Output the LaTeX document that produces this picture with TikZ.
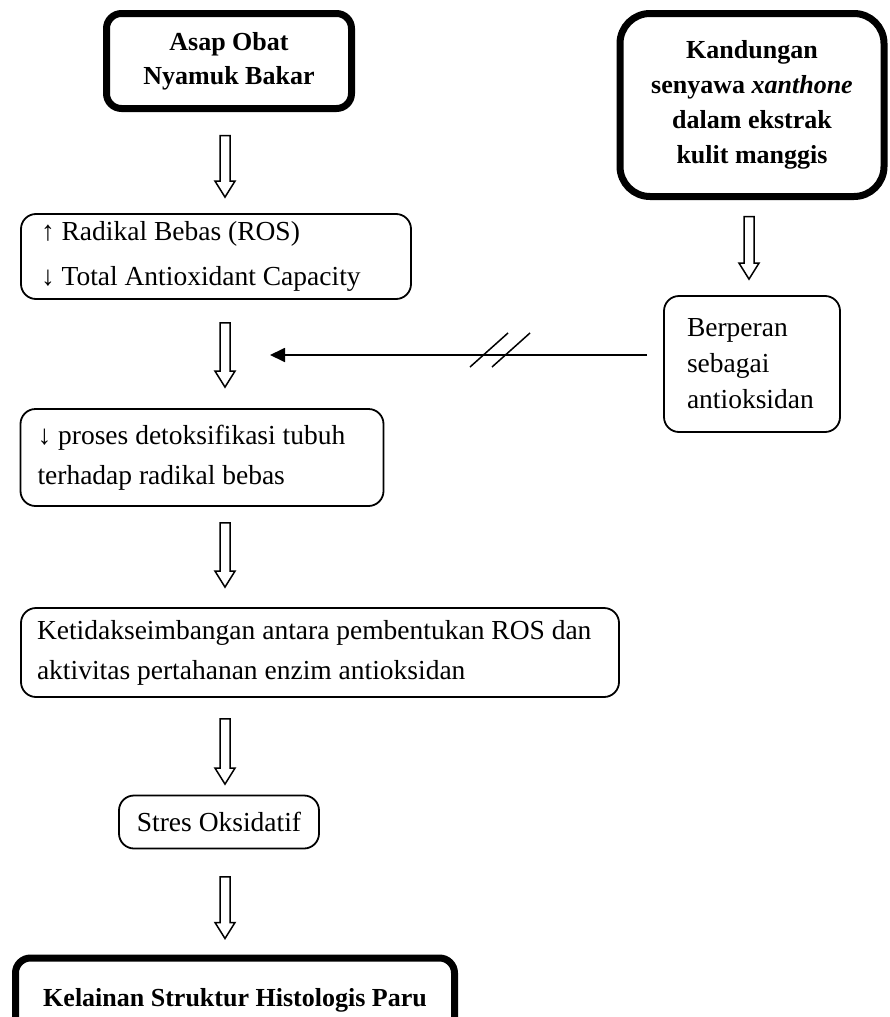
\documentclass[tikz,border=0pt]{standalone}
\usepackage{fontspec}
\setmainfont{Liberation Serif}
\usetikzlibrary{arrows.meta,calc}

\newcommand{\txt}[1]{\fontsize{27.5}{#1}\selectfont}
\newcommand{\btxt}[1]{\fontsize{26}{#1}\selectfont\bfseries}

\begin{document}
\begin{tikzpicture}[x=1pt,y=-1pt,
	box/.style={draw, line width=1.8pt, rounded corners=15pt, inner sep=0pt, align=flush left},
	thickbox/.style={draw, line width=7pt, rounded corners=15pt, inner sep=0pt, align=center},
	hollow/.style={line width=1.5pt, line join=miter, to path={let \p1=(\tikztostart), \p2=(\tikztotarget) in
		(\x1-5pt,\y1) -- (\x1+5pt,\y1) -- (\x1+5pt,\y2+16pt) -- (\x1+10pt,\y2+16pt) -- (\x1,\y2)
		-- (\x1-10pt,\y2+16pt) -- (\x1-5pt,\y2+16pt) -- cycle}}]
	\useasboundingbox (0,0) rectangle (890,1017);
	\coordinate (spine) at (225,0);
	\coordinate (spine2) at (749,0);
	\coordinate (blok) at (270,355);

	\node[thickbox, minimum width=245pt, minimum height=95pt, font=\btxt{34}] (asap) at (229,61) {Asap Obat\\Nyamuk Bakar};
	\node[thickbox, rounded corners=30pt, minimum width=264pt, minimum height=183pt, font=\btxt{35}] (kandungan) at (752,105) {Kandungan\\senyawa \textit{xanthone}\\dalam ekstrak\\kulit manggis};
	\node[box, minimum width=390pt, minimum height=85pt, text width=350pt, font=\txt{45}] (radikal) at (216,256.5) {↑ Radikal Bebas (ROS)\\↓ Total Antioxidant Capacity};
	\node[box, minimum width=176pt, minimum height=136pt, text width=130pt, font=\txt{36}] (berperan) at (752,364) {Berperan\\sebagai\\antioksidan};
	\node[box, minimum width=363pt, minimum height=97pt, text width=329pt, font=\txt{40}] (proses) at (202,457.5) {↓ proses detoksifikasi tubuh\\terhadap radikal bebas};
	\node[box, minimum width=598pt, minimum height=89pt, text width=566pt, font=\txt{40}] (ketidak) at (320,652.5) {Ketidakseimbangan antara pembentukan ROS dan\\aktivitas pertahanan enzim antioksidan};
	\node[box, minimum width=200pt, minimum height=53pt, align=center, font=\txt{38}] (stres) at (219,822) {Stres Oksidatif};
	\node[thickbox, minimum width=439pt, minimum height=84pt, font=\btxt{34}] (kelainan) at (235,1000) {Kelainan Struktur Histologis Paru};

	\draw[hollow] ([yshift=-23.5pt]spine |- asap.south) to ([yshift=16pt]spine |- radikal.north);
	\draw[hollow] ([yshift=-23pt]spine |- radikal.south) to ([yshift=21pt]spine |- proses.north);
	\draw[hollow] ([yshift=-16.5pt]spine2 |- kandungan.south) to ([yshift=16pt]spine2 |- berperan.north);
	\draw[hollow] ([yshift=-16pt]spine |- proses.south) to ([yshift=20pt]spine |- ketidak.north);
	\draw[hollow] ([yshift=-21pt]spine |- ketidak.south) to ([yshift=10.5pt]spine |- stres.north);
	\draw[hollow] ([yshift=-27.5pt]spine |- stres.south) to ([yshift=16pt]spine |- kelainan.north);

	\draw[line width=1.8pt, -{Triangle[length=15pt,width=14pt]}] ([xshift=-16pt,yshift=9pt]berperan.west) -- (blok);
	\draw[line width=1.5pt] (470,367) -- (508,333) (492,367) -- (530,333);
\end{tikzpicture}
\end{document}
